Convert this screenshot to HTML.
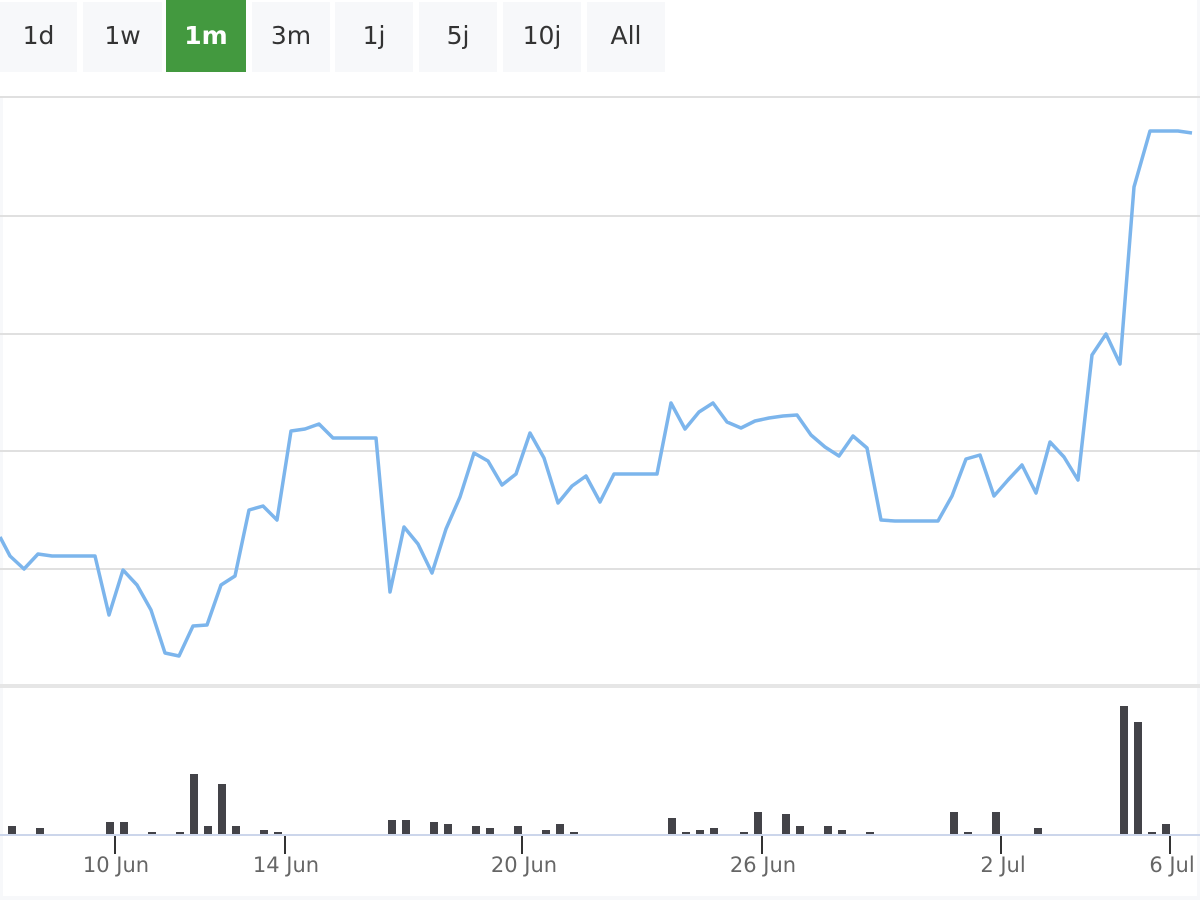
<!DOCTYPE html>
<html><head><meta charset="utf-8"><style>
body{margin:0;background:#fff;width:1200px;height:900px;overflow:hidden;font-family:"Liberation Sans","DejaVu Sans",sans-serif}
.b{position:absolute;top:2px;height:70px;background:#f7f8fa;color:#333;font-size:25px;line-height:68px;text-align:center;font-family:"DejaVu Sans",sans-serif}
</style></head><body>
<div class="b" style="left:0;width:77px">1d</div>
<div class="b" style="left:83px;width:79px">1w</div>
<div class="b" style="left:166px;width:80px;background:#43993f;color:#fff;top:0;height:72px;line-height:72px;font-weight:bold">1m</div>
<div class="b" style="left:252px;width:78px">3m</div>
<div class="b" style="left:335px;width:78px">1j</div>
<div class="b" style="left:419px;width:78px">5j</div>
<div class="b" style="left:503px;width:78px">10j</div>
<div class="b" style="left:587px;width:78px">All</div>
<svg width="1200" height="900" style="position:absolute;left:0;top:0">
<rect x="1197" y="0" width="3" height="900" fill="#f7f8fa"/>
<rect x="0" y="896" width="1200" height="4" fill="#f7f8fa"/>
<rect x="0" y="96" width="3" height="800" fill="#f7f8fa"/>
<g stroke="#e0e0e0" stroke-width="2">
<line x1="0" x2="1200" y1="97" y2="97"/><line x1="0" x2="1200" y1="216" y2="216"/>
<line x1="0" x2="1200" y1="334" y2="334"/><line x1="0" x2="1200" y1="451" y2="451"/>
<line x1="0" x2="1200" y1="569" y2="569"/></g>
<rect x="0" y="684" width="1200" height="4" fill="#e6e6e6"/>
<polyline fill="none" stroke="#7cb5ec" stroke-width="3.5" stroke-linejoin="round" points="0,537 10,556 24,569 38,554 52,556 66,556 80,556 95,556 109,615 123,570 137,585 151,610 165,653 179,656 193,626 207,625 221,585 235,576 249,510 263,506 277,520 291,431 305,429 319,424 333,438 347,438 361,438 376,438 390,592 404,527 418,544 432,573 446,529 460,497 474,453 488,461 502,485 516,474 530,433 544,458 558,503 572,486 586,476 600,502 614,474 628,474 642,474 657,474 671,403 685,429 699,412 713,403 727,422 741,428 755,421 769,418 783,416 797,415 811,435 825,447 839,456 853,436 867,448 881,520 895,521 909,521 923,521 938,521 952,496 966,459 980,455 994,496 1008,480 1022,465 1036,493 1050,442 1064,457 1078,480 1092,355 1106,334 1120,364 1134,187 1150,131 1164,131 1178,131 1192,133"/>
<g fill="#434348">
<rect x="8" y="826" width="8" height="8"/><rect x="36" y="828" width="8" height="6"/><rect x="106" y="822" width="8" height="12"/><rect x="120" y="822" width="8" height="12"/><rect x="148" y="832" width="8" height="2"/><rect x="176" y="832" width="8" height="2"/><rect x="190" y="774" width="8" height="60"/><rect x="204" y="826" width="8" height="8"/><rect x="218" y="784" width="8" height="50"/><rect x="232" y="826" width="8" height="8"/><rect x="260" y="830" width="8" height="4"/><rect x="274" y="832" width="8" height="2"/><rect x="388" y="820" width="8" height="14"/><rect x="402" y="820" width="8" height="14"/><rect x="430" y="822" width="8" height="12"/><rect x="444" y="824" width="8" height="10"/><rect x="472" y="826" width="8" height="8"/><rect x="486" y="828" width="8" height="6"/><rect x="514" y="826" width="8" height="8"/><rect x="542" y="830" width="8" height="4"/><rect x="556" y="824" width="8" height="10"/><rect x="570" y="832" width="8" height="2"/><rect x="668" y="818" width="8" height="16"/><rect x="682" y="832" width="8" height="2"/><rect x="696" y="830" width="8" height="4"/><rect x="710" y="828" width="8" height="6"/><rect x="740" y="832" width="8" height="2"/><rect x="754" y="812" width="8" height="22"/><rect x="782" y="814" width="8" height="20"/><rect x="796" y="826" width="8" height="8"/><rect x="824" y="826" width="8" height="8"/><rect x="838" y="830" width="8" height="4"/><rect x="866" y="832" width="8" height="2"/><rect x="950" y="812" width="8" height="22"/><rect x="964" y="832" width="8" height="2"/><rect x="992" y="812" width="8" height="22"/><rect x="1034" y="828" width="8" height="6"/><rect x="1120" y="706" width="8" height="128"/><rect x="1134" y="722" width="8" height="112"/><rect x="1148" y="832" width="8" height="2"/><rect x="1162" y="824" width="8" height="10"/>
</g>
<line x1="0" x2="1200" y1="835" y2="835" stroke="#ccd6eb" stroke-width="2"/>
<g stroke="#333" stroke-width="2">
<line x1="115" x2="115" y1="836" y2="854"/><line x1="285" x2="285" y1="836" y2="854"/><line x1="522" x2="522" y1="836" y2="854"/><line x1="762" x2="762" y1="836" y2="854"/><line x1="1001" x2="1001" y1="836" y2="854"/><line x1="1170" x2="1170" y1="836" y2="854"/></g>
<g fill="#666" font-size="21" text-anchor="middle" font-family="DejaVu Sans,sans-serif">
<text x="116" y="872">10 Jun</text><text x="286" y="872">14 Jun</text><text x="524" y="872">20 Jun</text><text x="763" y="872">26 Jun</text><text x="1003" y="872">2 Jul</text><text x="1172" y="872">6 Jul</text></g>
</svg>
</body></html>
